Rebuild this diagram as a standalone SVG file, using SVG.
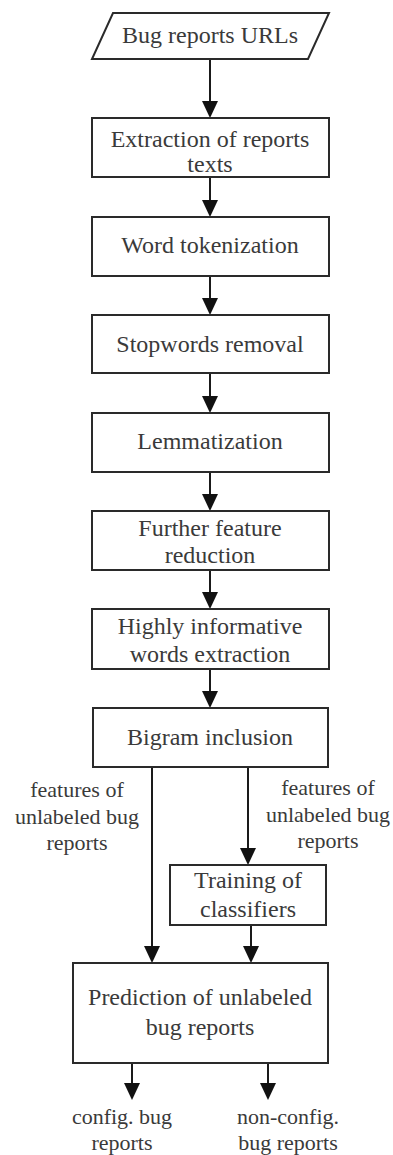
<svg xmlns="http://www.w3.org/2000/svg" width="393" height="1155" viewBox="0 0 393 1155">
<style>
.n{fill:#fff;stroke:#2a2a2a;stroke-width:2}
.t{font-family:'Liberation Serif','Times New Roman',Tinos,'DejaVu Serif',serif;font-size:24px;fill:#3a3a3a;text-anchor:middle}
.l{font-family:'Liberation Serif','Times New Roman',Tinos,'DejaVu Serif',serif;font-size:22px;fill:#3a3a3a;text-anchor:middle}
.c{stroke:#1a1a1a;stroke-width:2;fill:none}
.h{fill:#111}
</style>
<rect width="393" height="1155" fill="#fff"/>
<g id="connectors">
<path class="c" d="M210,59 V101"/>
<path class="h" d="M202,101 L218,101 L210,118 Z"/>
<path class="c" d="M210,177 V200"/>
<path class="h" d="M202,200 L218,200 L210,217 Z"/>
<path class="c" d="M210,276 V298"/>
<path class="h" d="M202,298 L218,298 L210,315 Z"/>
<path class="c" d="M210,373 V396"/>
<path class="h" d="M202,396 L218,396 L210,413 Z"/>
<path class="c" d="M210,472 V494"/>
<path class="h" d="M202,494 L218,494 L210,511 Z"/>
<path class="c" d="M210,570 V592"/>
<path class="h" d="M202,592 L218,592 L210,609 Z"/>
<path class="c" d="M210,669 V691"/>
<path class="h" d="M202,691 L218,691 L210,708 Z"/>
<path class="c" d="M152,767 V946"/>
<path class="h" d="M144,946 L160,946 L152,963 Z"/>
<path class="c" d="M248,767 V848"/>
<path class="h" d="M240,848 L256,848 L248,865 Z"/>
<path class="c" d="M251,925 V946"/>
<path class="h" d="M243,946 L259,946 L251,963 Z"/>
<path class="c" d="M132,1063 V1083"/>
<path class="h" d="M124,1083 L140,1083 L132,1100 Z"/>
<path class="c" d="M268,1063 V1083"/>
<path class="h" d="M260,1083 L276,1083 L268,1100 Z"/>
</g>
<g id="n0">
<polygon class="n" points="113,13 329,13 308,59 92,59"/>
<text class="t" x="210" y="43">Bug reports URLs</text>
</g>
<g id="n1">
<rect class="n" x="92" y="118" width="237" height="59"/>
<text class="t" x="210" y="147">Extraction of reports</text>
<text class="t" x="210" y="172">texts</text>
</g>
<g id="n2">
<rect class="n" x="92" y="217" width="237" height="59"/>
<text class="t" x="210" y="253">Word tokenization</text>
</g>
<g id="n3">
<rect class="n" x="92" y="315" width="237" height="58"/>
<text class="t" x="210" y="352">Stopwords removal</text>
</g>
<g id="n4">
<rect class="n" x="92" y="413" width="237" height="59"/>
<text class="t" x="210" y="449">Lemmatization</text>
</g>
<g id="n5">
<rect class="n" x="92" y="511" width="237" height="59"/>
<text class="t" x="210" y="536">Further feature</text>
<text class="t" x="210" y="563">reduction</text>
</g>
<g id="n6">
<rect class="n" x="92" y="609" width="237" height="60"/>
<text class="t" x="210" y="634">Highly informative</text>
<text class="t" x="210" y="662">words extraction</text>
</g>
<g id="n7">
<rect class="n" x="93" y="708" width="235" height="59"/>
<text class="t" x="210" y="745">Bigram inclusion</text>
</g>
<g id="n8">
<rect class="n" x="170" y="865" width="156" height="60"/>
<text class="t" x="248" y="888">Training of</text>
<text class="t" x="248" y="917">classifiers</text>
</g>
<g id="n9">
<rect class="n" x="73" y="963" width="255" height="100"/>
<text class="t" x="200" y="1005">Prediction of unlabeled</text>
<text class="t" x="200" y="1035">bug reports</text>
</g>
<g id="labels">
<text class="l" x="77" y="797">features of</text>
<text class="l" x="77" y="824">unlabeled bug</text>
<text class="l" x="77" y="850">reports</text>
<text class="l" x="328" y="795">features of</text>
<text class="l" x="328" y="822">unlabeled bug</text>
<text class="l" x="328" y="848">reports</text>
<text class="l" x="122" y="1124">config. bug</text>
<text class="l" x="122" y="1150">reports</text>
<text class="l" x="288" y="1124">non-config.</text>
<text class="l" x="288" y="1150">bug reports</text>
</g>
</svg>
